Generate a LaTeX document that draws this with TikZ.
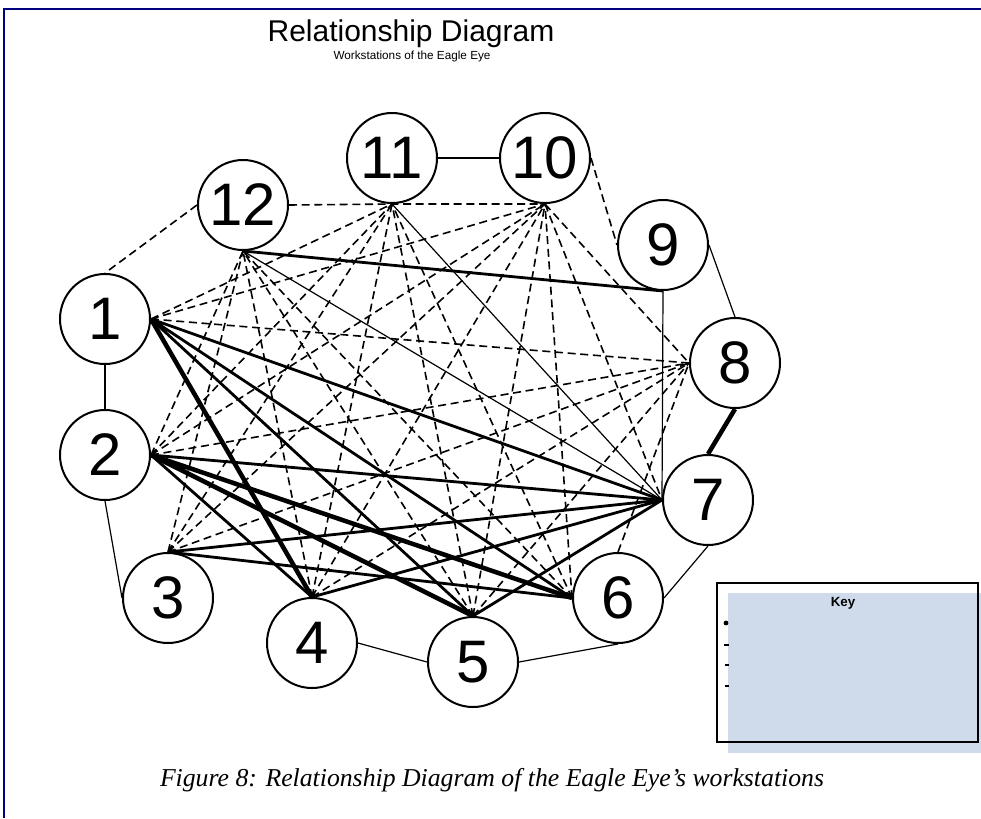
\documentclass[tikz,border=0pt]{standalone}
\usepackage{fontspec}
\setmainfont{Liberation Serif}
\setsansfont{Liberation Sans}
\usepackage{xcolor}
\definecolor{frameblue}{RGB}{0,0,128}
\definecolor{keyfill}{RGB}{207,218,235}

\begin{document}
\begin{tikzpicture}[
  x=0.75pt, y=-0.75pt,
  station/.style = {circle, draw, line width=1.5pt, fill=white, minimum size=67.5pt, inner sep=0pt,
                    font=\sffamily\fontsize{45}{45}\selectfont},
  weak/.style = {line width=0.9pt},
  medium/.style = {line width=2.1pt},
  strong/.style = {line width=3.4pt},
  loose/.style = {line width=1.2pt, dash pattern=on 6pt off 3.5pt}
]
  \useasboundingbox (0,0) rectangle (981,818);

  % ======================================================
  % Page frame and titles
  % ======================================================
  \draw[frameblue, line width=1.5pt] (4,818) -- (4,9) -- (981,9);

  \node[font=\sffamily\fontsize{22.5}{22.5}\selectfont, anchor=base] (title) at (411,41) {Relationship Diagram};
  \node[font=\sffamily\fontsize{8.8}{8.8}\selectfont, anchor=base] (subtitle) at (412,59) {Workstations of the Eagle Eye};

  % ======================================================
  % Workstations
  % ======================================================
  \node[station] (s1) at (105,319) {1};
  \node[station] (s2) at (105,455) {2};
  \node[station] (s3) at (168,598) {3};
  \node[station] (s4) at (312,643) {4};
  \node[station] (s5) at (473,662) {5};
  \node[station] (s6) at (618,598) {6};
  \node[station] (s7) at (708,500) {7};
  \node[station] (s8) at (735,363) {8};
  \node[station] (s9) at (663,245) {9};
  \node[station] (s10) at (545,158) {10};
  \node[station] (s11) at (392,158) {11};
  \node[station] (s12) at (243,205) {12};

  % thin links
  \draw[weak] (s1.south) -- (s2.north);
  \draw[weak] (s2.south) -- (s3.west);
  \draw[weak] (s4.east) -- (s5.west);
  \draw[weak] (s5.east) -- (s6.south);
  \draw[weak] (s6.east) -- (s7.south);
  \draw[weak] (s8.north) -- (s9.east);
  \draw[weak] (s11.east) -- (s10.west);
  \draw[weak] (s9.south) -- (s7.west);
  \draw[weak] (s11.south) -- (s7.west);
  \draw[weak] (s12.south) -- (s7.west);

  % medium links
  \draw[medium] (s1.east) -- (s7.west) (s1.east) -- (s6.west) (s1.east) -- (s5.north);
  \draw[medium] (s2.east) -- (s7.west) (s2.east) -- (s4.north);
  \draw[medium] (s3.north) -- (s7.west) (s3.north) -- (s6.west);
  \draw[medium] (s4.north) -- (s7.west);
  \draw[medium] (s5.north) -- (s7.west);
  \draw[medium] (s12.south) -- (s9.south);

  % strong links
  \draw[strong] (s1.east) -- (s4.north);
  \draw[strong] (s2.east) -- (s5.north) (s2.east) -- (s6.west);
  \draw[strong] (s7.north) -- (s8.south);

  % dashed links
  \draw[loose] (s12.west) -- (s1.north);
  \draw[loose] (s12.east) -- (s11.south) -- (s10.south);
  \draw[loose] (s10.east) -- (s9.west);
  \draw[loose] (s6.north) -- (s8.west);
  \draw[loose] (s1.east) -- (s11.south) (s1.east) -- (s10.south) (s1.east) -- (s8.west);
  \draw[loose] (s2.east) -- (s12.south) (s2.east) -- (s11.south) (s2.east) -- (s10.south) (s2.east) -- (s8.west);
  \draw[loose] (s3.north) -- (s12.south) (s3.north) -- (s11.south) (s3.north) -- (s10.south) (s3.north) -- (s8.west);
  \draw[loose] (s4.north) -- (s12.south) (s4.north) -- (s11.south) (s4.north) -- (s10.south) (s4.north) -- (s8.west);
  \draw[loose] (s5.north) -- (s12.south) (s5.north) -- (s11.south) (s5.north) -- (s10.south) (s5.north) -- (s8.west);
  \draw[loose] (s6.west) -- (s12.south) (s6.west) -- (s11.south) (s6.west) -- (s10.south);
  \draw[loose] (s10.south) -- (s7.west) (s10.south) -- (s8.west);

  % ======================================================
  % Key
  % ======================================================
  \fill[keyfill] (728,593) rectangle (981,753);
  \draw[line width=0.8pt] (717,583) rectangle (978,742);
  \node[font=\sffamily\bfseries\fontsize{10}{10}\selectfont] (keytitle) at (843,603) {Key};
  \fill (726,623) circle (2.4);
  \draw[line width=2.2pt] (724,645) -- (729,645);
  \draw[line width=0.9pt] (725,665) -- (729,665);
  \draw[line width=1.4pt] (725,686) -- (729,686);

  % caption
  \node[font=\itshape\fontsize{19.3}{19.3}\selectfont, anchor=base] (caption) at (492,786)
    {Figure 8: Relationship Diagram of the Eagle Eye’s workstations};

\end{tikzpicture}
\end{document}
